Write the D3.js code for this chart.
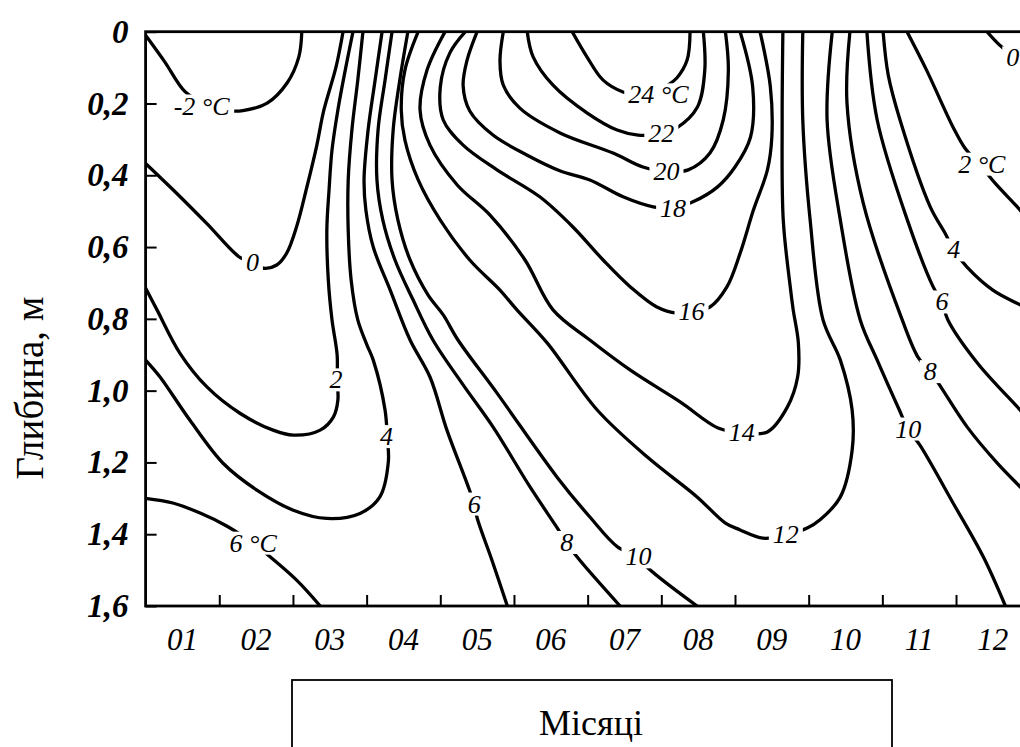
<!DOCTYPE html>
<html><head><meta charset="utf-8">
<script src="https://cdn.jsdelivr.net/npm/d3@7"></script>
<style>body{margin:0;background:#fff} svg{display:block}</style>
</head><body>
<svg id="c" width="1020" height="747"></svg>
<script>
// ---- data: month axis (0..12 = year), depth in m, temperatures in °C ----
const months = ["01","02","03","04","05","06","07","08","09","10","11","12"];
const monthTicks = [1,2,3,4,5,6,7,8,9,10,11];
const depthTicks = [0,0.2,0.4,0.6,0.8,1.0,1.2,1.4,1.6];

// isotherms: [month position, depth m]
const iso_m2 = [[0,0.01],[0.26,0.084],[0.535,0.167],[0.81,0.201],[1.12,0.220],[1.32,0.220],[1.65,0.199],[1.92,0.143],[2.08,0.070],[2.12,0]];
const iso_0a = [[0,0.367],[0.376,0.441],[0.829,0.534],[1.28,0.629],[1.46,0.644],[1.60,0.659],[1.78,0.650],[1.915,0.617],[2.05,0.543],[2.19,0.432],[2.32,0.320],[2.42,0.218],[2.585,0.098],[2.68,0]];
const iso_0b = [[11.42,0],[11.56,0.031],[11.67,0.051],[11.80,0.075],[12.0,0.10]];
const iso_2a = [[0,0.714],[0.155,0.775],[0.467,0.896],[0.829,0.989],[1.28,1.063],[1.73,1.110],[2.005,1.124],[2.37,1.110],[2.55,1.073],[2.61,1.026],[2.60,0.970],[2.60,0.901],[2.53,0.803],[2.48,0.692],[2.46,0.553],[2.49,0.441],[2.53,0.330],[2.61,0.218],[2.71,0.107],[2.815,0]];
const iso_2b = [[10.335,0],[10.60,0.107],[10.96,0.266],[11.12,0.324],[11.33,0.372],[11.53,0.422],[11.87,0.497],[12.0,0.530]];
const iso_4a = [[0,0.915],[0.196,0.962],[0.60,1.082],[1.055,1.203],[1.51,1.277],[2.005,1.333],[2.46,1.356],[2.91,1.342],[3.18,1.296],[3.295,1.198],[3.28,1.129],[3.25,1.054],[3.09,0.915],[3.005,0.873],[2.88,0.803],[2.79,0.692],[2.75,0.553],[2.75,0.413],[2.80,0.274],[2.88,0.135],[2.95,0]];
const iso_4b = [[10.01,0],[10.08,0.121],[10.24,0.246],[10.65,0.488],[10.85,0.561],[10.97,0.608],[11.15,0.656],[11.50,0.720],[11.87,0.761],[12.0,0.775]];
const iso_6a = [[0,1.300],[0.37,1.313],[0.74,1.341],[1.10,1.377],[1.46,1.425],[1.69,1.463],[2.05,1.528],[2.37,1.6]];
const iso_6b = [[3.21,0],[3.115,0.135],[3.02,0.274],[2.965,0.413],[2.99,0.497],[3.09,0.600],[3.32,0.720],[3.59,0.859],[3.86,0.962],[4.09,1.110],[4.36,1.257],[4.46,1.316],[4.50,1.355],[4.70,1.472],[4.91,1.6]];
const iso_6c = [[9.79,0],[9.93,0.246],[10.34,0.525],[10.69,0.711],[10.81,0.753],[10.89,0.803],[11.29,0.923],[11.87,1.054],[12.0,1.085]];
const iso_8a = [[3.345,0],[3.25,0.135],[3.155,0.274],[3.14,0.413],[3.22,0.525],[3.385,0.636],[3.63,0.747],[3.90,0.859],[4.31,0.984],[4.715,1.101],[5.22,1.269],[5.56,1.374],[5.715,1.423],[5.855,1.463],[6.44,1.6]];
const iso_8b = [[9.56,0],[9.52,0.199],[9.74,0.477],[10.27,0.803],[10.49,0.909],[10.65,0.947],[10.76,0.979],[11.15,1.101],[11.56,1.202],[11.87,1.268],[12.0,1.296]];
const iso_10a = [[3.56,0],[3.45,0.135],[3.36,0.274],[3.345,0.413],[3.425,0.525],[3.59,0.636],[3.835,0.734],[4.04,0.789],[4.24,0.859],[4.77,1.007],[5.585,1.241],[6.03,1.352],[6.41,1.436],[6.69,1.463],[6.82,1.494],[7.485,1.6]];
const iso_10b = [[9.32,0],[9.25,0.246],[9.43,0.525],[9.70,0.803],[9.93,0.915],[10.22,1.049],[10.35,1.107],[10.51,1.152],[10.96,1.313],[11.37,1.463],[11.67,1.6]];
const iso_12 = [[3.70,0],[3.52,0.107],[3.47,0.218],[3.52,0.302],[3.70,0.413],[4.0,0.525],[4.40,0.636],[4.81,0.720],[5.04,0.775],[5.45,0.867],[6.13,1.054],[6.81,1.185],[7.485,1.296],[7.87,1.369],[8.07,1.388],[8.38,1.411],[8.69,1.402],[8.98,1.383],[9.155,1.360],[9.43,1.296],[9.59,1.166],[9.59,1.054],[9.43,0.915],[9.195,0.803],[9.02,0.525],[8.92,0.246],[8.92,0]];
const iso_14 = [[4.065,0],[3.82,0.107],[3.725,0.218],[3.86,0.316],[4.23,0.427],[4.675,0.511],[5.15,0.636],[5.53,0.775],[6.03,0.859],[6.58,0.943],[7.26,1.032],[7.77,1.104],[8.09,1.117],[8.44,1.115],[8.71,1.046],[8.85,0.962],[8.86,0.867],[8.79,0.775],[8.75,0.711],[8.655,0.525],[8.64,0.246],[8.65,0]];
const iso_16 = [[4.34,0],[4.13,0.059],[4.0,0.154],[4.04,0.246],[4.31,0.316],[4.77,0.385],[5.35,0.460],[5.80,0.544],[6.21,0.636],[6.58,0.711],[6.94,0.767],[7.21,0.784],[7.41,0.780],[7.66,0.767],[7.89,0.711],[8.07,0.617],[8.25,0.497],[8.44,0.385],[8.50,0.294],[8.48,0.154],[8.34,0]];
const iso_18 = [[4.50,0],[4.36,0.082],[4.31,0.151],[4.40,0.221],[4.715,0.288],[5.18,0.344],[5.63,0.388],[6.03,0.413],[6.48,0.460],[6.89,0.488],[7.16,0.492],[7.43,0.474],[7.76,0.433],[8.0,0.377],[8.21,0.294],[8.24,0.154],[8.07,0]];
const iso_20 = [[4.855,0],[4.81,0.082],[4.855,0.149],[5.08,0.213],[5.625,0.282],[6.345,0.338],[6.75,0.377],[7.07,0.390],[7.365,0.385],[7.66,0.338],[7.84,0.246],[7.91,0.107],[7.87,0]];
const iso_22 = [[5.18,0],[5.26,0.070],[5.53,0.149],[5.99,0.226],[6.40,0.274],[6.685,0.288],[7.00,0.283],[7.21,0.268],[7.49,0.210],[7.59,0.107],[7.57,0]];
const iso_24 = [[5.79,0],[5.99,0.070],[6.21,0.135],[6.48,0.168],[6.80,0.180],[7.08,0.150],[7.21,0.129],[7.35,0.079],[7.39,0]];

const isotherms = [iso_m2, iso_0a, iso_0b, iso_2a, iso_2b, iso_4a, iso_4b, iso_6a, iso_6b, iso_6c,
  iso_8a, iso_8b, iso_10a, iso_10b, iso_12, iso_14, iso_16, iso_18, iso_20, iso_22, iso_24];

const isoLabels = [
  {t:"-2 °C", m:0.76, d:0.207}, {t:"0", m:1.45, d:0.643}, {t:"2", m:2.585, d:0.970},
  {t:"4", m:3.27, d:1.128}, {t:"6 °C", m:1.46, d:1.425}, {t:"6", m:4.46, d:1.316},
  {t:"8", m:5.715, d:1.423}, {t:"10", m:6.69, d:1.463}, {t:"12", m:8.69, d:1.402},
  {t:"14", m:8.09, d:1.117}, {t:"16", m:7.41, d:0.780}, {t:"18", m:7.16, d:0.492},
  {t:"20", m:7.07, d:0.390}, {t:"22", m:7.00, d:0.283}, {t:"24 °C", m:6.96, d:0.176},
  {t:"2 °C", m:11.35, d:0.369}, {t:"4", m:10.97, d:0.608}, {t:"6", m:10.81, d:0.753},
  {t:"8", m:10.65, d:0.947}, {t:"10", m:10.35, d:1.107}, {t:"0", m:11.77, d:0.073}
];

// ---- drawing ----
const svg = d3.select("#c");
const serif = "'Liberation Serif','DejaVu Serif',serif";
const x = d3.scaleLinear().domain([0,12]).range([145.6, 1029.7]);
const y = d3.scaleLinear().domain([0,1.6]).range([31.7, 606]);
const xb = d3.scaleBand().domain(months).range(x.range());

svg.append("defs").append("clipPath").attr("id","plot")
  .append("rect").attr("x",x(0)).attr("y",y(0)).attr("width",x(12)-x(0)).attr("height",y(1.6)-y(0));

const line = d3.line().x(p=>x(p[0])).y(p=>y(p[1])).curve(d3.curveCatmullRom.alpha(0.5));
svg.append("g").attr("clip-path","url(#plot)")
  .selectAll("path").data(isotherms).join("path")
  .attr("d", line).attr("fill","none").attr("stroke","#000")
  .attr("stroke-width",3.3).attr("stroke-linecap","round").attr("stroke-linejoin","round");

// labels with white knock-out
const lg = svg.append("g");
isoLabels.forEach(l => {
  const g = lg.append("g");
  const t = g.append("text").attr("x",x(l.m)).attr("y",y(l.d))
    .attr("text-anchor","middle").attr("dominant-baseline","central")
    .attr("font-family",serif).attr("font-style","italic").attr("font-size",26)
    .text(l.t);
  const b = t.node().getBBox();
  g.insert("rect","text").attr("x",b.x-4).attr("y",b.y+3).attr("width",b.width+8).attr("height",b.height-6).attr("fill","#fff");
});

// frame
svg.append("rect").attr("x",x(0)).attr("y",y(0)).attr("width",x(12)-x(0)).attr("height",y(1.6)-y(0))
  .attr("fill","none").attr("stroke","#000").attr("stroke-width",2.8);

// y axis
const fmt = d => d === 0 ? "0" : d3.format(".1f")(d).replace(".", ",");
const ya = svg.append("g").attr("transform",`translate(${x(0)},0)`)
  .call(d3.axisLeft(y).tickValues(depthTicks).tickSize(-11).tickSizeOuter(0).tickPadding(17).tickFormat(fmt));
ya.select(".domain").remove();
ya.selectAll("line").attr("stroke-width",2);
ya.selectAll("text").attr("font-family",serif).attr("font-style","italic").attr("font-weight","bold").attr("font-size",33).attr("fill","#000");

// x axis ticks
const xa = svg.append("g").attr("transform",`translate(0,${y(1.6)})`)
  .call(d3.axisBottom(x).tickValues(monthTicks).tickSize(-11).tickSizeOuter(0).tickFormat(""));
xa.select(".domain").remove();
xa.selectAll("line").attr("stroke-width",2);
// x month labels
const xl = svg.append("g").attr("transform",`translate(0,${y(1.6)})`)
  .call(d3.axisBottom(xb).tickSize(0).tickPadding(22));
xl.select(".domain").remove();
xl.selectAll("text").attr("font-family",serif).attr("font-style","italic").attr("font-size",31).attr("fill","#000");

// y title
svg.append("text").attr("transform","translate(43,388) rotate(-90)").attr("text-anchor","middle")
  .attr("font-family",serif).attr("font-size",39).text("Глибина, м");

// x title box
svg.append("rect").attr("x",292).attr("y",680).attr("width",600).attr("height",100)
  .attr("fill","none").attr("stroke","#000").attr("stroke-width",1.8);
svg.append("text").attr("x",591).attr("y",735).attr("text-anchor","middle")
  .attr("font-family",serif).attr("font-size",36).text("Місяці");
</script>
</body></html>
